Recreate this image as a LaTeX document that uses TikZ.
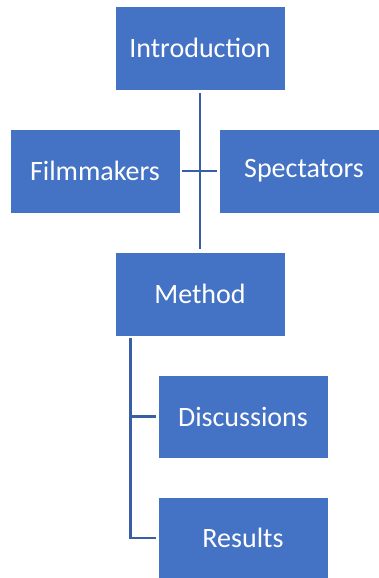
\documentclass[tikz,border=0pt]{standalone}
\usepackage{fontspec}
\setmainfont{Carlito}
\definecolor{boxblue}{RGB}{68,114,196}
\definecolor{lineblue}{RGB}{58,94,166}
\tikzset{
  box/.style={rectangle, fill=boxblue, draw=white, line width=0.8pt, text=white,
    minimum width=170pt, minimum height=84pt, inner sep=0pt, font=\fontsize{28}{32}\selectfont},
  conn/.style={draw=lineblue, line width=2.8pt}
}
\begin{document}
\begin{tikzpicture}[x=1pt,y=-1pt]
\useasboundingbox (0,0) rectangle (379,578);
\clip (0,0) rectangle (379,578);
\fill[white] (0,0) rectangle (379,578);
\node[box] (intro) at (200,48) {Introduction};
\node[box] (film) at (95,171) {Filmmakers};
\node[box] (spec) at (304,171) {Spectators};
\node[box] (method) at (200,294) {Method};
\node[box, minimum height=83pt] (disc) at (243,416.5) {Discussions};
\node[box, minimum height=82pt] (res) at (243,538) {Results};
\coordinate (branch) at ([xshift=16pt,yshift=-2pt]method.south west);
\draw[conn, shorten <=3pt, shorten >=3pt] (intro.south) -- (method.north);
\draw[conn, shorten <=2pt, shorten >=2pt] (film.east) -- (spec.west);
\draw[conn, shorten >=2pt] (branch) |- (disc.west);
\draw[conn, shorten >=2pt] (branch) |- (res.west);
\end{tikzpicture}
\end{document}
